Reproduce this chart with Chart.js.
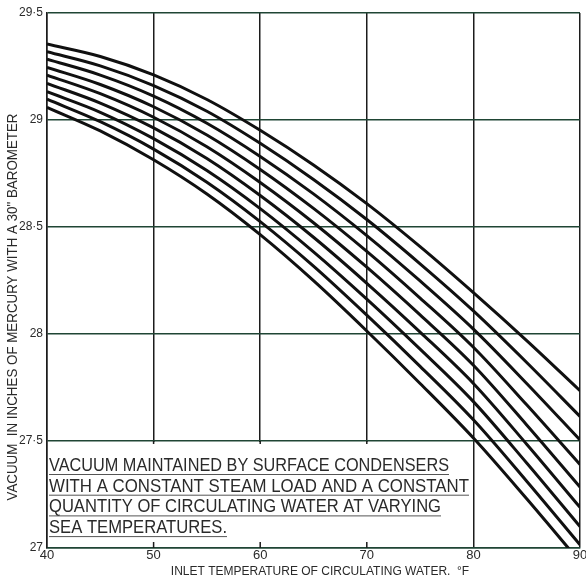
<!DOCTYPE html>
<html>
<head>
<meta charset="utf-8">
<script src="https://cdn.jsdelivr.net/npm/chart.js@4/dist/chart.umd.min.js"></script>
<style>
  html, body { margin: 0; padding: 0; background: #fff; }
  canvas { display: block; }
</style>
</head>
<body>
<canvas id="chart" width="586" height="581"></canvas>
<script>
// Inlet temperature of circulating water (°F)
const temps = [40, 45, 50, 55, 60, 65, 70, 75, 80, 85, 90];

// Vacuum (in. Hg, 30" barometer) for each condenser curve, top to bottom
const line1 = [29.355, 29.297, 29.211, 29.096, 28.952, 28.790, 28.609, 28.408, 28.193, 27.969, 27.735];
const line2 = [29.319, 29.253, 29.161, 29.041, 28.891, 28.722, 28.535, 28.328, 28.108, 27.867, 27.615];
const line3 = [29.284, 29.210, 29.112, 28.985, 28.830, 28.655, 28.460, 28.248, 28.023, 27.769, 27.505];
const line4 = [29.246, 29.166, 29.062, 28.930, 28.769, 28.587, 28.386, 28.168, 27.938, 27.669, 27.390];
const line5 = [29.210, 29.123, 29.013, 28.875, 28.708, 28.520, 28.312, 28.089, 27.854, 27.575, 27.285];
const line6 = [29.171, 29.079, 28.963, 28.820, 28.647, 28.452, 28.237, 28.009, 27.769, 27.485, 27.190];
const line7 = [29.132, 29.036, 28.913, 28.764, 28.586, 28.384, 28.163, 27.929, 27.684, 27.397, 27.100];
const line8 = [29.097, 28.992, 28.864, 28.709, 28.525, 28.317, 28.088, 27.849, 27.599, 27.312, 27.015];
const line9 = [29.059, 28.949, 28.814, 28.654, 28.464, 28.249, 28.014, 27.769, 27.514, 27.230, 26.935];

// Tick labels
const xLabels = ['40', '50', '60', '70', '80', '90'];
const yLabels = ['27', '27·5', '28', '28·5', '29', '29·5'];

// Caption lines in the lower-left panel
const noteLines = [
  'VACUUM MAINTAINED BY SURFACE CONDENSERS',
  'WITH A CONSTANT STEAM LOAD AND A CONSTANT',
  'QUANTITY OF CIRCULATING WATER AT VARYING',
  'SEA TEMPERATURES.'
];
const yTitle = 'VACUUM  IN INCHES OF MERCURY WITH A 30" BAROMETER';
const xTitle = 'INLET TEMPERATURE OF CIRCULATING WATER.  °F';

const series = [line1, line2, line3, line4, line5, line6, line7, line8, line9];

const INK = '#2a2a2a';
const GRID_H = '#1f4534';
const GRID_V = '#1c1c1c';

// Caption panel, axis titles and small ticks drawn on the canvas
const captionPlugin = {
  id: 'caption',
  beforeDatasetsDraw(chart) {
    const { ctx, chartArea: a, scales: { x, y } } = chart;
    const top = y.getPixelForValue(27.5);
    const right = x.getPixelForValue(80);
    ctx.save();
    // clear grid inside the caption panel
    ctx.fillStyle = '#fff';
    ctx.fillRect(a.left + 1, top + 1, right - a.left - 2, a.bottom - top - 2);
    // short tick stubs at 50, 60, 70
    ctx.strokeStyle = GRID_V;
    ctx.lineWidth = 1.5;
    [50, 60, 70].forEach(v => {
      const px = x.getPixelForValue(v);
      ctx.beginPath();
      ctx.moveTo(px, a.bottom);
      ctx.lineTo(px, a.bottom - 6);
      ctx.moveTo(px, top);
      ctx.lineTo(px, top + 3);
      ctx.stroke();
    });
    ctx.restore();
  },
  afterDatasetsDraw(chart) {
    const { ctx, chartArea: a, scales: { y } } = chart;
    const top = y.getPixelForValue(27.5);
    const widths = [400, 420, 392, 178];
    ctx.save();
    ctx.fillStyle = INK;
    ctx.font = '19px "Liberation Sans", Arial, sans-serif';
    ctx.textAlign = 'left';
    ctx.textBaseline = 'alphabetic';
    noteLines.forEach((t, i) => {
      const base = top + 30 + i * 20.7;
      ctx.fillText(t, a.left + 2, base, widths[i]);
      ctx.strokeStyle = '#555';
      ctx.lineWidth = 1;
      ctx.beginPath();
      ctx.moveTo(a.left + 2, base + 3.5);
      ctx.lineTo(a.left + 2 + widths[i], base + 3.5);
      ctx.stroke();
    });

    // axis titles
    ctx.fillStyle = INK;
    ctx.font = '14px "Liberation Sans", Arial, sans-serif';
    ctx.textAlign = 'center';
    ctx.textBaseline = 'middle';
    ctx.save();
    ctx.translate(13, 307);
    ctx.rotate(-Math.PI / 2);
    ctx.fillText(yTitle, 0, 0, 387);
    ctx.restore();

    ctx.font = '12px "Liberation Sans", Arial, sans-serif';
    ctx.fillText(xTitle, 320, 572, 317);
    ctx.restore();
  }
};

new Chart(document.getElementById('chart'), {
  type: 'line',
  data: {
    datasets: series.map((vals, i) => ({
      label: 'Curve ' + (i + 1),
      data: temps.map((t, j) => ({ x: t, y: vals[j] })),
      borderColor: '#101010',
      borderWidth: 3,
      pointRadius: 0,
      fill: false,
      cubicInterpolationMode: 'monotone'
    }))
  },
  options: {
    responsive: false,
    animation: false,
    devicePixelRatio: 1,
    layout: { padding: { left: 0, right: 6, top: 13, bottom: 0 } },
    plugins: {
      legend: { display: false },
      tooltip: { enabled: false },
      title: { display: false }
    },
    scales: {
      x: {
        type: 'linear',
        min: 40,
        max: 90,
        ticks: {
          stepSize: 10,
          autoSkip: false,
          maxRotation: 0,
          padding: 0,
          color: INK,
          font: { family: '"Liberation Sans", Arial, sans-serif', size: 13 },
          callback: (v, i) => xLabels[i]
        },
        grid: { color: GRID_V, lineWidth: 1.5, drawTicks: false },
        border: { color: GRID_H, width: 1.5 },
        afterFit(s) { s.height = 33; s.paddingLeft = 0; s.paddingRight = 0; }
      },
      y: {
        type: 'linear',
        min: 27,
        max: 29.5,
        ticks: {
          stepSize: 0.5,
          padding: 4,
          color: INK,
          font: { family: '"Liberation Sans", Arial, sans-serif', size: 12 },
          callback: (v, i) => yLabels[i]
        },
        grid: { color: GRID_H, lineWidth: 1.5, drawTicks: false },
        border: { color: GRID_V, width: 1.5 },
        afterFit(s) { s.width = 47; s.paddingTop = 0; s.paddingBottom = 0; }
      }
    }
  },
  plugins: [captionPlugin]
});
</script>
</body>
</html>
